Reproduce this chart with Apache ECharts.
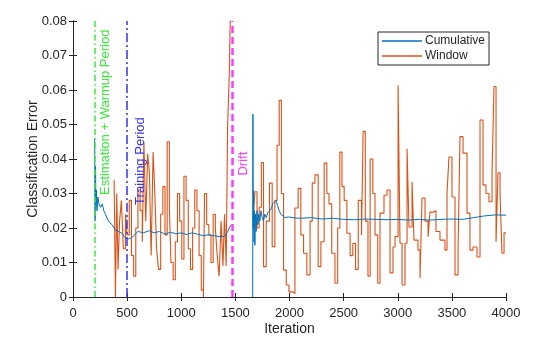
<!DOCTYPE html>
<html>
<head>
<meta charset="utf-8">
<script src="https://cdn.jsdelivr.net/npm/echarts@6/dist/echarts.min.js"></script>
<style>
  html, body { margin: 0; padding: 0; background: #fff; }
  #chart { width: 560px; height: 337px; }
</style>
</head>
<body>
<div id="chart"></div>
<script>
// Cumulative classification error (null marks the reset gap after the drift)
const cumIter = [200, 204, 208, 212, 216, 222, 230, 240, 255, 270, 285, 300, 320, 340, 360, 390, 420, 450, 480, 510, 540, 570, 600, 650, 700, 750, 800, 850, 900, 950, 1000, 1050, 1100, 1150, 1200, 1250, 1300, 1350, 1400, 1430, 1450, 1465,
  1500,
  1660, 1662, 1665, 1668, 1672, 1676, 1680, 1686, 1692, 1700, 1708, 1716, 1726, 1736, 1748, 1760, 1772, 1785, 1800, 1815, 1830, 1845, 1860, 1875, 1890, 1905, 1920, 1940, 1960, 1990, 2050, 2100, 2200, 2300, 2400, 2500, 2600, 2700, 2800, 2900, 3000, 3100, 3200, 3300, 3400, 3500, 3600, 3700, 3800, 3900, 4000];
const cumErr = [0.046, 0.022, 0.038, 0.026, 0.031, 0.025, 0.029, 0.027, 0.026, 0.027, 0.025, 0.024, 0.0225, 0.0215, 0.021, 0.0195, 0.019, 0.0185, 0.0172, 0.0168, 0.0172, 0.018, 0.019, 0.0186, 0.0192, 0.0186, 0.019, 0.0182, 0.0188, 0.0183, 0.0186, 0.0181, 0.0186, 0.0182, 0.0178, 0.018, 0.0178, 0.0175, 0.0176, 0.019, 0.0205, 0.021,
  null,
  0, 0.053, 0.02, 0.031, 0.016, 0.025, 0.015, 0.024, 0.019, 0.025, 0.021, 0.024, 0.022, 0.025, 0.023, 0.022, 0.024, 0.023, 0.0245, 0.025, 0.0255, 0.027, 0.0275, 0.028, 0.0265, 0.025, 0.024, 0.0235, 0.023, 0.0232, 0.0229, 0.0228, 0.023, 0.0226, 0.0228, 0.0225, 0.0224, 0.0226, 0.0225, 0.0224, 0.0225, 0.0223, 0.0225, 0.0223, 0.0225, 0.0226, 0.0225, 0.023, 0.0235, 0.0238, 0.0237];

// Sliding-window classification error; each value holds until the next iteration mark
const winIter = [380, 392, 404, 416, 430, 447, 465, 485, 500, 520, 540, 560, 580, 600, 620, 640, 655, 672, 690, 706, 722, 740, 756, 772, 790, 810, 830, 850, 870, 890, 905, 925, 945, 965, 985, 1005, 1025, 1045, 1065, 1085, 1105, 1125, 1145, 1165, 1185, 1205, 1215, 1235, 1255, 1275, 1295, 1315, 1332, 1350, 1368, 1385, 1400, 1415, 1428, 1444, 1458, 1468,
  1500,
  1663, 1680, 1700, 1720, 1740, 1760, 1785, 1815, 1840, 1865, 1885, 1905, 1925, 1945, 1970, 1995, 2030, 2050, 2080, 2105, 2130, 2160, 2190, 2210, 2235, 2265, 2290, 2320, 2345, 2365, 2390, 2420, 2445, 2465, 2485, 2505, 2530, 2560, 2585, 2610, 2635, 2665, 2680, 2700, 2725, 2745, 2770, 2790, 2815,
  2836, 2873, 2901, 2929, 2956, 2975, 3003, 3021, 3040, 3067, 3086, 3104, 3132, 3150, 3187, 3206, 3224, 3252, 3280, 3298, 3326, 3353, 3390, 3436, 3455, 3473, 3501, 3529, 3557, 3575, 3603, 3640, 3667, 3695, 3732, 3760, 3788, 3815, 3843, 3871, 3889, 3908, 3926, 3945, 3963, 3982, 4000];
const winErr = [0.034, 0.0, 0.03, 0.008, 0.022, 0.028, 0.014, 0.024, 0.018, 0.028, 0.012, 0.006, 0.02, 0.031, 0.025, 0.016, 0.045, 0.022, 0.0415, 0.036, 0.012, 0.042, 0.03, 0.014, 0.008, 0.024, 0.032, 0.018, 0.045, 0.026, 0.01, 0.005, 0.016, 0.03, 0.022, 0.011, 0.035, 0.028, 0.014, 0.008, 0.02, 0.031, 0.025, 0.012, 0.002, 0.0, 0.03, 0.021, 0.018, 0.01, 0.024, 0.02, 0.012, 0.006, 0.022, 0.009, 0.024, 0.009, 0.049, 0.065, 0.09, 0.09,
  null,
  0.022, 0.0305, 0.02, 0.026, 0.039, 0.0088, 0.022, 0.033, 0.0146, 0.028, 0.044, 0.057, 0.03, 0.0078, 0.0035, 0.0015, 0.001, 0.0258, 0.0315, 0.018, 0.0127, 0.0064, 0.022, 0.033, 0.0354, 0.0088, 0.016, 0.0388, 0.03, 0.027, 0.0127, 0.004, 0.02, 0.042, 0.032, 0.028, 0.0185, 0.012, 0.0155, 0.008, 0.028, 0.018, 0.048, 0.022, 0.006, 0.04, 0.03, 0.018, 0.004,
  0.0243, 0.0295, 0.031, 0.007, 0.0145, 0.0175, 0.0614, 0.0156, 0.0035, 0.0156, 0.043, 0.0203, 0.0334, 0.0165, 0.0136, 0.0055, 0.0287, 0.022, 0.0175, 0.0246, 0.025, 0.019, 0.0165, 0.0136, 0.03, 0.0406, 0.029, 0.0064, 0.0136, 0.0465, 0.0417, 0.0243, 0.0136, 0.0145, 0.0116, 0.0513, 0.0325, 0.03, 0.0276, 0.036, 0.061, 0.016, 0.036, 0.0295, 0.0127, 0.0186, 0.0186];

// Phase boundaries and their captions
const phaseIter = [200, 500, 1470];
const phaseText = ['Estimation + Warmup Period', 'Training Period', 'Drift'];
const phaseColor = ['#3ce83c', '#3434f0', '#ff3cff'];
const phaseDash = [[6, 3, 1.5, 3], [9, 3, 2, 3], [7, 4]];
const phaseWidth = [1.5, 1.5, 2.5];
const captionAnchor = [[296, 0.0296], [619, 0.0267], [1570, 0.0352]];

const FONT = '"Liberation Sans", Arial, Helvetica, sans-serif';
const INK = '#262626';

const toPairs = (xs, ys) => xs.map((x, i) => [x, ys[i] === null ? '-' : ys[i]]);

// Stairs: hold each value flat until the next iteration mark, then jump
function toStairs(xs, ys) {
  const out = [];
  for (let i = 0; i < xs.length; i++) {
    if (ys[i] === null) { out.push([xs[i], '-']); continue; }
    out.push([xs[i], ys[i]]);
    if (i + 1 < xs.length && ys[i + 1] !== null) out.push([xs[i + 1], ys[i]]);
  }
  return out;
}

const chart = echarts.init(document.getElementById('chart'), null, { renderer: 'canvas' });

const frameAxis = {
  axisLine: { show: true, lineStyle: { color: INK, width: 1 } },
  axisTick: { show: true, inside: true, length: 4, lineStyle: { color: INK } },
  splitLine: { show: false }
};

chart.setOption({
  animation: false,
  backgroundColor: '#fff',
  grid: { left: 73, right: 54, top: 21, bottom: 40, outerBoundsMode: 'none', containLabel: false },
  legend: {
    data: [
      { name: 'Cumulative', icon: 'rect', itemStyle: { color: '#0072BD' } },
      { name: 'Window', icon: 'rect', itemStyle: { color: '#D95319' } }
    ],
    orient: 'vertical',
    left: 378, top: 32,
    padding: [2, 4, 2, 4],
    itemWidth: 40, itemHeight: 1.3, itemGap: 1,
    borderColor: INK, borderWidth: 1, backgroundColor: '#fff',
    borderRadius: 0,
    textStyle: { fontFamily: FONT, fontSize: 12, color: INK, padding: [0, 0, 0, -2], lineHeight: 14 }
  },
  xAxis: [
    Object.assign({}, frameAxis, {
      type: 'value', min: 0, max: 4000, interval: 500,
      name: 'Iteration', nameLocation: 'middle', nameGap: 25, nameMoveOverlap: false,
      nameTextStyle: { fontFamily: FONT, fontSize: 14, color: INK },
      axisLabel: { fontFamily: FONT, fontSize: 13, color: INK, margin: 10, formatter: v => String(v) }
    }),
    Object.assign({}, frameAxis, {
      type: 'value', min: 0, max: 4000, interval: 500, position: 'top',
      axisLabel: { show: false }
    })
  ],
  yAxis: [
    Object.assign({}, frameAxis, {
      type: 'value', min: 0, max: 0.08, interval: 0.01,
      name: 'Classification Error', nameLocation: 'middle', nameGap: 33, nameMoveOverlap: false,
      nameTextStyle: { fontFamily: FONT, fontSize: 14, color: INK },
      axisLabel: { fontFamily: FONT, fontSize: 13, color: INK, margin: 6,
        formatter: v => (v === 0 ? '0' : String(+v.toFixed(2))) }
    }),
    Object.assign({}, frameAxis, {
      type: 'value', min: 0, max: 0.08, interval: 0.01, position: 'right',
      axisLabel: { show: false }
    })
  ],
  series: [
    {
      name: 'Window', type: 'line', symbol: 'none', showSymbol: false,
      data: toStairs(winIter, winErr), connectNulls: false, clip: true,
      lineStyle: { color: '#D95319', width: 1.1 }, itemStyle: { color: '#D95319' },
      z: 2
    },
    {
      name: 'Cumulative', type: 'line', symbol: 'none', showSymbol: false,
      data: toPairs(cumIter, cumErr), connectNulls: false, clip: true,
      lineStyle: { color: '#0072BD', width: 1 }, itemStyle: { color: '#0072BD' },
      z: 3
    },
    {
      name: 'phases', type: 'line', data: [], silent: true, z: 4,
      markLine: {
        symbol: 'none', silent: true, animation: false,
        label: { show: false },
        data: phaseIter.map((x, i) => ({
          xAxis: x,
          lineStyle: { color: phaseColor[i], type: phaseDash[i], width: phaseWidth[i] }
        }))
      }
    }
  ]
});

// Rotated captions beside each phase boundary, anchored in data coordinates
const captions = phaseText.map((t, i) => {
  const p = chart.convertToPixel({ gridIndex: 0 }, captionAnchor[i]);
  return {
    type: 'text', x: p[0], y: p[1], rotation: Math.PI / 2, z: 10,
    style: { text: t, fill: phaseColor[i], font: '13px ' + FONT, align: 'left', verticalAlign: 'middle' }
  };
});
chart.setOption({ graphic: captions });
</script>
</body>
</html>
